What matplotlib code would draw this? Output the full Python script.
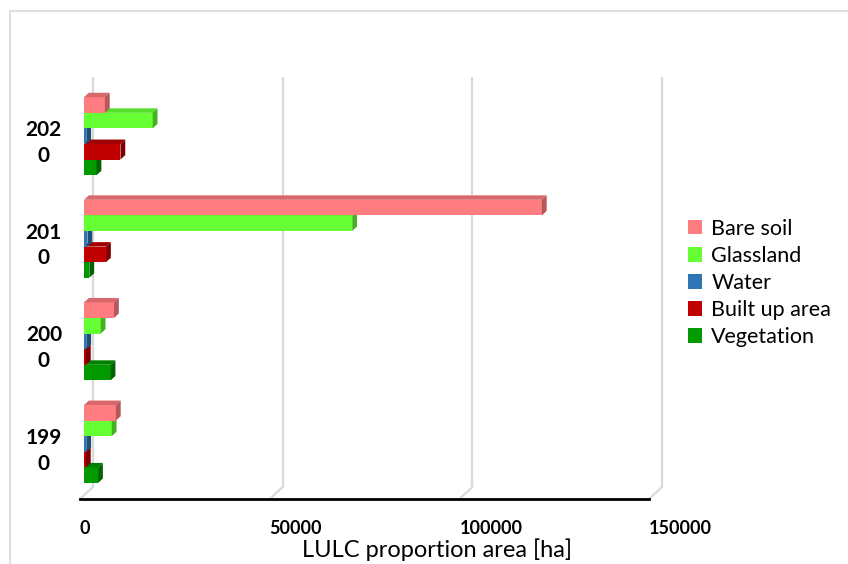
import numpy as np
import matplotlib.pyplot as plt
from matplotlib.patches import Polygon, Patch, Rectangle

years = ['1990', '2000', '2010', '2020']
classes = ['Bare soil', 'Glassland', 'Water', 'Built up area', 'Vegetation']

bare_soil = [8400, 7900, 120700, 5500]
glassland = [7300, 4400, 70700, 18100]
water = [600, 600, 900, 600]
built_up = [500, 500, 5800, 9600]
vegetation = [3700, 7000, 1400, 3300]

x_ticks = [0, 50000, 100000, 150000]

front_cols = ['#FF7C80', '#66FF33', '#2E75B6', '#C00000', '#009900']
top_cols = ['#D9686C', '#55DD2A', '#245E93', '#A00000', '#008000']
side_cols = ['#B5585B', '#44B022', '#1F4E79', '#800000', '#006400']

plt.rcParams['font.family'] = ['Lato', 'DejaVu Sans']

fig = plt.figure(figsize=(8.48, 5.64), dpi=100)
W, H = 848, 564
# front plane of the plot box in pixels
x0_px, x1_px, y0_px, y1_px = 80, 649, 499, 88.6
ax = fig.add_axes([x0_px / W, (H - y0_px) / H, (x1_px - x0_px) / W, (y0_px - y1_px) / H])
ax.set_xlim(0, 150000)
ax.set_ylim(-0.5, 3.5)

# pixel -> data conversion for depth offsets
px_x = 150000 / (x1_px - x0_px)
px_y = 4 / (y0_px - y1_px)
depth_dx, depth_dy = 13, 12   # full depth of the box in px

def shift(f):
    return f * depth_dx * px_x, f * depth_dy * px_y

# back wall gridlines and floor edges
bx, by = shift(1.0)
for t in x_ticks:
    ax.plot([t + bx, t + bx], [-0.5 + by, 3.5 + by], color='#D9D9D9', lw=1.6,
            zorder=0, clip_on=False, solid_capstyle='butt')
    ax.plot([t, t + bx], [-0.5, -0.5 + by], color='#D9D9D9', lw=1.6,
            zorder=0, clip_on=False)

# bars sit between these two depth fractions
f0, f1 = 0.31, 0.68
fx0, fy0 = shift(f0)
fx1, fy1 = shift(f1)

series = [bare_soil, glassland, water, built_up, vegetation]
group_h = 0.76
bar_h = group_h / len(series)

z = 2
for gi, year in enumerate(years):
    # draw bottom bar first so upper bars cover the top faces below them
    for si in reversed(range(len(series))):
        val = series[si][gi]
        yc = gi + group_h / 2 - bar_h / 2 - si * bar_h
        yb, yt = yc - bar_h / 2 + fy0, yc + bar_h / 2 + fy0
        xl, xr = fx0, fx0 + val
        dx, dy = fx1 - fx0, fy1 - fy0
        ax.barh(yc + fy0, val, left=fx0, height=bar_h, color=front_cols[si],
                zorder=z, clip_on=False, linewidth=0)
        top = Polygon([(xl, yt), (xr, yt), (xr + dx, yt + dy), (xl + dx, yt + dy)],
                      closed=True, facecolor=top_cols[si], lw=0, zorder=z, clip_on=False)
        side = Polygon([(xr, yb), (xr + dx, yb + dy), (xr + dx, yt + dy), (xr, yt)],
                       closed=True, facecolor=side_cols[si], lw=0, zorder=z, clip_on=False)
        ax.add_patch(top)
        ax.add_patch(side)
        z += 1

for s in ['top', 'right', 'left']:
    ax.spines[s].set_visible(False)
ax.spines['bottom'].set_color('black')
ax.spines['bottom'].set_linewidth(2)
ax.spines['bottom'].set_zorder(1)

ax.set_xticks(x_ticks)
ax.set_xticklabels([str(t) for t in x_ticks], fontweight='bold', fontsize=13, ha='left')
ax.tick_params(axis='x', length=0, pad=15)

ax.set_yticks([i + fy0 - 0.02 for i in range(len(years))])
ax.set_yticklabels([y[:3] + '\n' + y[3:] for y in years], fontweight='bold',
                   fontsize=15, multialignment='center', linespacing=1.35)
ax.tick_params(axis='y', length=0, pad=13)

fig.text(437 / W, 1 - 550 / H, 'LULC proportion area [ha]', ha='center', va='center',
         fontsize=17)

handles = [Patch(facecolor=c, edgecolor='none') for c in front_cols]
fig.legend(handles, classes, loc='center left', bbox_to_anchor=(679 / W, 1 - 283 / H),
           frameon=False, fontsize=15.5, handlelength=0.65, handleheight=0.65,
           handletextpad=0.45, labelspacing=0.33, borderaxespad=0)

# outer chart border (only the left and top edges fall inside the image)
fig.patches.append(Rectangle((10 / W, -0.1), 1.2, 1 - 11 / H + 0.1, transform=fig.transFigure,
                             fill=False, edgecolor='#D9D9D9', lw=1.2))

fig.savefig('out.png', dpi=100)
